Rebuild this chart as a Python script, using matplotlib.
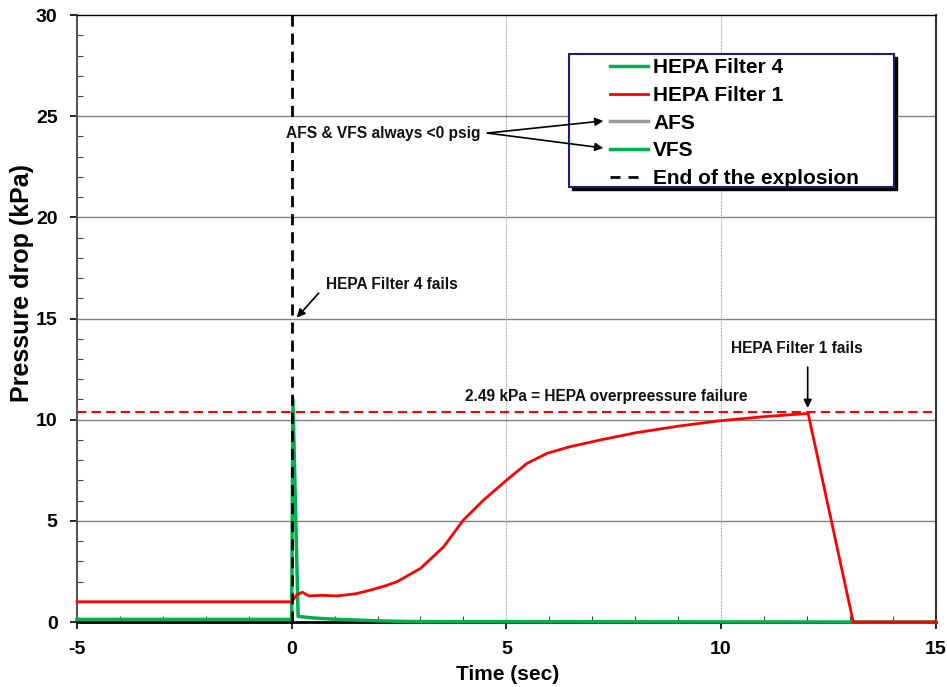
import matplotlib
matplotlib.use("Agg")
import matplotlib.pyplot as plt
from matplotlib.lines import Line2D
from matplotlib.patches import Rectangle
from matplotlib.ticker import MultipleLocator
import matplotlib.transforms as mtransforms

plt.rcParams['font.family'] = ['Liberation Sans', 'DejaVu Sans']
plt.rcParams['axes.unicode_minus'] = False

# HEPA Filter 1 (red)
t_hepa1 = [-5, 0, 0.12, 0.25, 0.4, 0.7, 1.06, 1.5, 1.84, 2.2, 2.46, 3.0, 3.54, 4.0,
           4.47, 5.01, 5.48, 5.95, 6.49, 7.19, 8.0, 9.0, 9.98, 11.0, 12.03, 13.08, 15]
p_hepa1 = [1.0, 1.0, 1.35, 1.47, 1.29, 1.32, 1.29, 1.4, 1.58, 1.8, 2.0, 2.65, 3.72, 5.04,
           6.03, 7.02, 7.84, 8.34, 8.67, 9.0, 9.35, 9.68, 9.95, 10.15, 10.31, 0.0, 0.0]

# HEPA Filter 4 (green)
t_hepa4 = [-5, 0, 0.03, 0.15, 0.5, 1.06, 2.0, 2.6, 3.0, 13.0, 15]
p_hepa4 = [0.13, 0.13, 11.0, 0.28, 0.2, 0.13, 0.06, 0.03, 0.02, 0.0, 0.0]

hepa_limit = 10.38
explosion_end = 0.0

fig, ax = plt.subplots(figsize=(9.47, 6.87), dpi=100)
fig.subplots_adjust(left=0.0813, right=0.988, top=0.978, bottom=0.0946)

green = '#00b050'
ax.plot(t_hepa4, p_hepa4, color=green, lw=2.5, zorder=3, clip_on=False)
ax.plot(t_hepa1, p_hepa1, color='#ff0000', lw=2, zorder=4, clip_on=False)
ax.axhline(hepa_limit, color='#ff0000', lw=1.5, ls=(0, (4.5, 2.5)), zorder=2)
ax.axvline(explosion_end, color='black', lw=2, ls=(0, (4, 2.5)), zorder=5)

ax.set_xlim(-5, 15)
ax.set_ylim(0, 30)
ax.xaxis.set_major_locator(MultipleLocator(5))
ax.yaxis.set_major_locator(MultipleLocator(5))
ax.xaxis.set_minor_locator(MultipleLocator(1))
ax.yaxis.set_minor_locator(MultipleLocator(1))
ax.tick_params(which='major', direction='out', length=5, width=1.2, labelsize=14)
ax.tick_params(axis='x', which='major', pad=9)
ax.tick_params(axis='y', which='major', pad=9)
ax.tick_params(which='minor', direction='in', length=4, width=0.8, color='#444444')
for lab in ax.get_xticklabels() + ax.get_yticklabels():
    lab.set_fontweight('bold')

# grid
for yv in [5, 10, 15, 20, 25]:
    ax.axhline(yv, color='#808080', lw=1, zorder=1)
for xv in [5, 10]:
    ax.axvline(xv, color='#999999', lw=0.8, ls=(0, (1, 1)), zorder=1)

ax.spines['left'].set_color('#555555')
ax.spines['left'].set_linewidth(1.5)
ax.spines['bottom'].set_color('black')
ax.spines['bottom'].set_linewidth(2)
ax.spines['top'].set_linewidth(1)
ax.spines['right'].set_linewidth(1.5)
ax.spines['right'].set_color('#333333')

ax.set_xlabel('Time (sec)', fontsize=15, fontweight='bold', va='center')
ax.xaxis.set_label_coords(0.502, -0.087)
ax.set_ylabel('Pressure drop (kPa)', fontsize=18, fontweight='bold', va='center')
ax.yaxis.set_label_coords(-0.064, 0.558)

# annotations
afont = dict(fontsize=11.2, fontweight='bold', color='#111111')
ax.text(-0.14, 24.17, 'AFS & VFS always <0 psig', ha='left', va='center', zorder=6,
        bbox=dict(facecolor='white', edgecolor='none', pad=1), **afont)
arrow = dict(arrowstyle='-|>', color='black', lw=1.2, mutation_scale=12, shrinkA=0, shrinkB=0)
ax.annotate('', xy=(7.26, 24.77), xytext=(4.56, 24.17), arrowprops=arrow, zorder=11)
ax.annotate('', xy=(7.26, 23.43), xytext=(4.56, 24.17), arrowprops=arrow, zorder=11)

ax.text(0.81, 16.7, 'HEPA Filter 4 fails', ha='left', va='center', **afont)
ax.annotate('', xy=(0.12, 15.05), xytext=(0.63, 16.26), arrowprops=arrow)

ax.text(7.33, 11.17, '2.49 kPa = HEPA overpreessure failure', ha='center', va='center', **afont)

ax.text(11.77, 13.5, 'HEPA Filter 1 fails', ha='center', va='center', **afont)
ax.annotate('', xy=(12.02, 10.58), xytext=(12.02, 12.6), arrowprops=arrow)

# legend box with shadow
shadow_tr = ax.transAxes + mtransforms.ScaledTranslation(3 / 100, -3 / 100, fig.dpi_scale_trans)
ax.add_patch(Rectangle((0.573, 0.717), 0.379, 0.219, transform=shadow_tr,
                       facecolor='black', edgecolor='black', zorder=8, clip_on=False))
ax.add_patch(Rectangle((0.573, 0.717), 0.379, 0.219, transform=ax.transAxes,
                       facecolor='white', edgecolor='#1f1f7a', lw=1.5, zorder=9, clip_on=False))

handles = [Line2D([], [], color=green, lw=2.5),
           Line2D([], [], color='#ff0000', lw=2),
           Line2D([], [], color='#999999', lw=2.5),
           Line2D([], [], color=green, lw=2.5),
           Line2D([], [], color='black', lw=2, ls=(0, (3.6, 2.9, 3.6, 20)))]
labels = ['HEPA Filter 4', 'HEPA Filter 1', 'AFS', 'VFS', 'End of the explosion']
leg = ax.legend(handles, labels, loc='upper left', bbox_to_anchor=(0.6205, 0.929),
                frameon=False, borderpad=0, borderaxespad=0, handlelength=1.83,
                handletextpad=0.25, labelspacing=0.42,
                prop={'size': 15, 'weight': 'bold'})
leg.set_zorder(10)

fig.savefig('out.png', dpi=100)
